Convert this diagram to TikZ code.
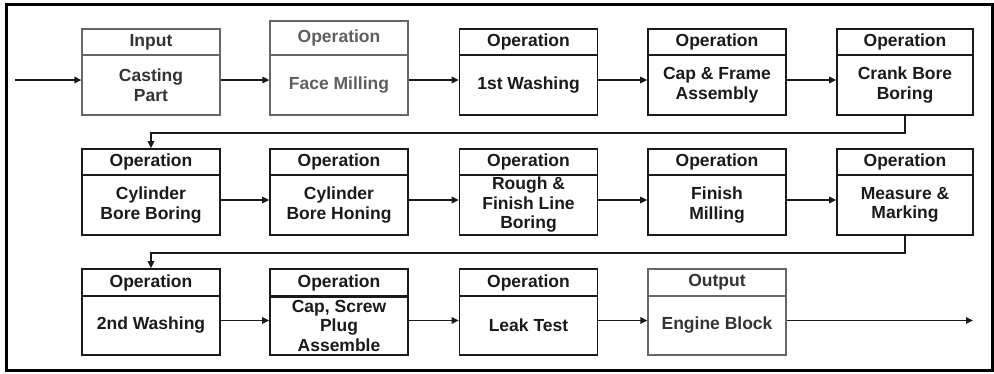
\documentclass[tikz,border=0pt]{standalone}
\usepackage{fontspec}
\setmainfont{Liberation Sans}
\usetikzlibrary{arrows.meta}
\definecolor{ink}{HTML}{1A1A1A}
\definecolor{dim}{HTML}{666666}
\definecolor{dimtext}{HTML}{5E5E5E}
\definecolor{softtext}{HTML}{333333}

\begin{document}
\begin{tikzpicture}[x=1pt,y=-1pt,
  box/.style={draw=ink, line width=1.7pt, minimum width=138pt, inner sep=0pt,
    align=center, font=\bfseries\fontsize{17.5}{19.5}\selectfont, text=ink},
  hdr/.style={box, minimum height=26pt},
  bod/.style={box, minimum height=60pt},
  soft/.style={draw=dim, line width=1.3pt},
  flow/.style={draw=ink, line width=1.4pt, -{Triangle[length=7pt,width=6.5pt]}}
]
\useasboundingbox (0,0) rectangle (994,373);

% frame
\draw[black, line width=3pt] (6.5,4) rectangle (992.5,370.5);

% row 1
\node[hdr, soft, text=softtext] (h1) at (151,42) {Input};
\node[bod, soft, text=softtext] (b1) at (151,85) {Casting\\Part};
\node[box, soft, minimum height=34pt, text=dimtext] (h2) at (339,38) {Operation};
\node[bod, soft, text=dimtext] (b2) at (339,85) {Face Milling};
\node[hdr] (h3) at (528.5,42) {Operation};
\node[bod] (b3) at (528.5,85) {1st Washing};
\node[hdr] (h4) at (717,42) {Operation};
\node[bod] (b4) at (717,85) {Cap \& Frame\\Assembly};
\node[hdr, minimum width=136pt] (h5) at (905,42) {Operation};
\node[bod, minimum width=136pt] (b5) at (905,85) {Crank Bore\\Boring};

% row 2
\node[hdr] (h6) at (151,162) {Operation};
\node[bod] (b6) at (151,205) {Cylinder\\Bore Boring};
\node[hdr] (h7) at (339,162) {Operation};
\node[bod] (b7) at (339,205) {Cylinder\\Bore Honing};
\node[hdr] (h8) at (528.5,162) {Operation};
\node[bod] (b8) at (528.5,205) {Rough \&\\Finish Line\\Boring};
\node[hdr] (h9) at (717,162) {Operation};
\node[bod] (b9) at (717,205) {Finish\\Milling};
\node[hdr, minimum width=136pt] (h10) at (905,162) {Operation};
\node[bod, minimum width=136pt] (b10) at (905,205) {Measure \&\\Marking};

% row 3
\node[hdr, minimum height=27pt] (h11) at (151,282.5) {Operation};
\node[bod, minimum height=59pt] (b11) at (151,325.5) {2nd Washing};
\node[hdr, minimum height=27pt] (h12) at (339,282.5) {Operation};
\node[bod, minimum height=59pt] (b12) at (339,325.5) {Cap, Screw\\Plug\\Assemble};
\node[hdr, minimum height=27pt] (h13) at (528.5,282.5) {Operation};
\node[bod, minimum height=59pt] (b13) at (528.5,325.5) {Leak Test};
\node[hdr, soft, minimum height=27pt, text=softtext] (h14) at (717,282.5) {Output};
\node[bod, soft, minimum height=59pt, text=softtext] (b14) at (717,325.5) {Engine Block};
\draw[ink, line width=3.2pt] (h12.south west) -- (h12.south east);

% flow
\coordinate (in) at (15,80);
\coordinate (out) at (973,320.5);
\draw[flow] (in) -- ([yshift=5pt]b1.west);
\draw[flow] ([yshift=5pt]b1.east) -- ([yshift=5pt]b2.west);
\draw[flow] ([yshift=5pt]b2.east) -- ([yshift=5pt]b3.west);
\draw[flow] ([yshift=5pt]b3.east) -- ([yshift=5pt]b4.west);
\draw[flow] ([yshift=5pt]b4.east) -- ([yshift=5pt]b5.west);
\draw[flow] (b5.south) -- ++(0,17) -| (h6.north);
\draw[flow] ([yshift=5pt]b6.east) -- ([yshift=5pt]b7.west);
\draw[flow] ([yshift=5pt]b7.east) -- ([yshift=5pt]b8.west);
\draw[flow] ([yshift=5pt]b8.east) -- ([yshift=5pt]b9.west);
\draw[flow] ([yshift=5pt]b9.east) -- ([yshift=5pt]b10.west);
\draw[flow] (b10.south) -- ++(0,17) -| (h11.north);
\draw[flow] ([yshift=5pt]b11.east) -- ([yshift=5pt]b12.west);
\draw[flow] ([yshift=5pt]b12.east) -- ([yshift=5pt]b13.west);
\draw[flow] ([yshift=5pt]b13.east) -- ([yshift=5pt]b14.west);
\draw[flow] ([yshift=5pt]b14.east) -- (out);
\end{tikzpicture}
\end{document}
